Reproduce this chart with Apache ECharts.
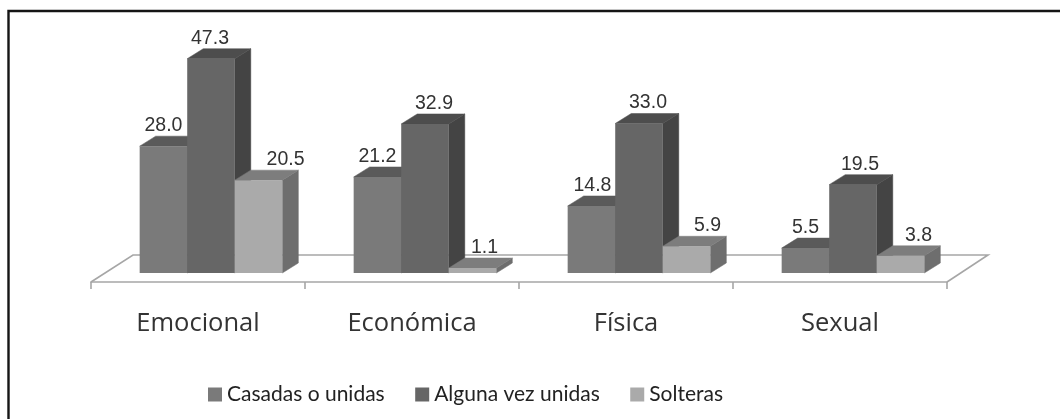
<!DOCTYPE html>
<html>
<head>
<meta charset="utf-8">
<script src="https://cdn.jsdelivr.net/npm/echarts@6/dist/echarts.min.js"></script>
<style>html,body{margin:0;padding:0;background:#fff}#c{width:1060px;height:419px}</style>
</head>
<body>
<div id="c"></div>
<script>
const categories = ['Emocional', 'Económica', 'Física', 'Sexual'];
const casadas = [28.0, 21.2, 14.8, 5.5];
const alguna = [47.3, 32.9, 33.0, 19.5];
const solteras = [20.5, 1.1, 5.9, 3.8];

/* drawing style, kept apart from the data */
const depth = { x: 16, y: 10 };
const shift = { x: 13, y: 9 };
const palettes = [
  { front: '#7a7a7a', top: '#5a5a5a', side: '#5a5a5a' },
  { front: '#666666', top: '#4d4d4d', side: '#444444' },
  { front: '#aaaaaa', top: '#7d7d7d', side: '#6e6e6e' }
];
const labelNudge = [
  [0, 0, 1, 0],
  [-1, 9, 9, 7],
  [27, 12, 21, 18]
];

function barRenderer(si) {
  const pal = palettes[si];
  return function (params, api) {
    const ci = api.value(0), v = api.value(1);
    const band = api.size([1, 0])[0];
    const w = band * 2 / 9;
    const top = api.coord([ci, v]), base = api.coord([ci, 0]);
    const x0 = base[0] + shift.x + (si - 1.5) * w;
    const x1 = x0 + w;
    const yb = base[1] - shift.y;
    const yt = top[1] - shift.y;
    const dx = depth.x, dy = depth.y;
    const poly = (pts, fill) => ({ type: 'polygon', shape: { points: pts }, style: { fill: fill, stroke: fill, lineWidth: 0.5 } });
    return {
      type: 'group',
      children: [
        poly([[x1, yb], [x1 + dx, yb - dy], [x1 + dx, yt - dy], [x1, yt]], pal.side),
        poly([[x0, yt], [x0 + dx, yt - dy], [x1 + dx, yt - dy], [x1, yt]], pal.top),
        { type: 'rect', shape: { x: x0, y: yt, width: w, height: yb - yt }, style: { fill: pal.front } },
        {
          type: 'text',
          style: {
            x: x0 + w / 2 + labelNudge[si][ci], y: yt - 20.5,
            text: api.value(1).toFixed(1), fill: '#333333',
            font: '19.5px "Liberation Sans"', align: 'center', verticalAlign: 'middle'
          }
        }
      ]
    };
  };
}

function floorRenderer(params, api) {
  const band = api.size([1, 0])[0];
  const a = api.coord([0, 0]), b = api.coord([categories.length - 1, 0]);
  const L = a[0] - band / 2, R = b[0] + band / 2, y = a[1];
  return {
    type: 'polyline',
    shape: { points: [[L, y], [L + 42, y - 27], [R + 41, y - 27], [R, y]] },
    style: { fill: null, stroke: '#a6a6a6', lineWidth: 1.6 }
  };
}

const seriesNames = ['Casadas o unidas', 'Alguna vez unidas', 'Solteras'];
const seriesValues = [casadas, alguna, solteras];

const chart = echarts.init(document.getElementById('c'), null, { renderer: 'canvas' });
chart.setOption({
  animation: false,
  backgroundColor: '#ffffff',
  grid: { left: 91, width: 856, top: 55.5, height: 226.5 },
  xAxis: {
    type: 'category', data: categories, boundaryGap: true,
    axisLine: { lineStyle: { color: '#a6a6a6', width: 1.6 } },
    axisTick: { show: true, alignWithLabel: false, length: 7, lineStyle: { color: '#a6a6a6', width: 1.6 } },
    axisLabel: { color: '#333333', fontFamily: 'Open Sans', fontSize: 25.5, margin: 29, interval: 0 }
  },
  yAxis: { type: 'value', min: 0, max: 50, show: false },
  legend: {
    data: seriesNames.map((n, i) => ({ name: n, itemStyle: { color: palettes[i].front } })),
    left: 208, top: 384, icon: 'rect', itemWidth: 14, itemHeight: 14, itemGap: 30.5, padding: 0,
    textStyle: { color: '#222222', fontFamily: 'Lato', fontSize: 21, padding: [0, 0, 0, 0] }
  },
  graphic: [{
    type: 'polyline', silent: true, z: -1,
    shape: { points: [[8.5, 419], [8.5, 11], [1060, 11]] },
    style: { fill: 'none', stroke: '#151515', lineWidth: 2.4 }
  }],
  series: [
    { type: 'custom', name: '_floor', silent: true, renderItem: floorRenderer, data: [[0, 0]], z: 1 }
  ].concat(seriesValues.map((vals, si) => ({
    type: 'custom', name: seriesNames[si], z: 2 + si,
    renderItem: barRenderer(si),
    encode: { x: 0, y: 1 },
    itemStyle: { color: palettes[si].front },
    data: vals.map((v, i) => [i, v])
  })))
});
</script>
</body>
</html>
